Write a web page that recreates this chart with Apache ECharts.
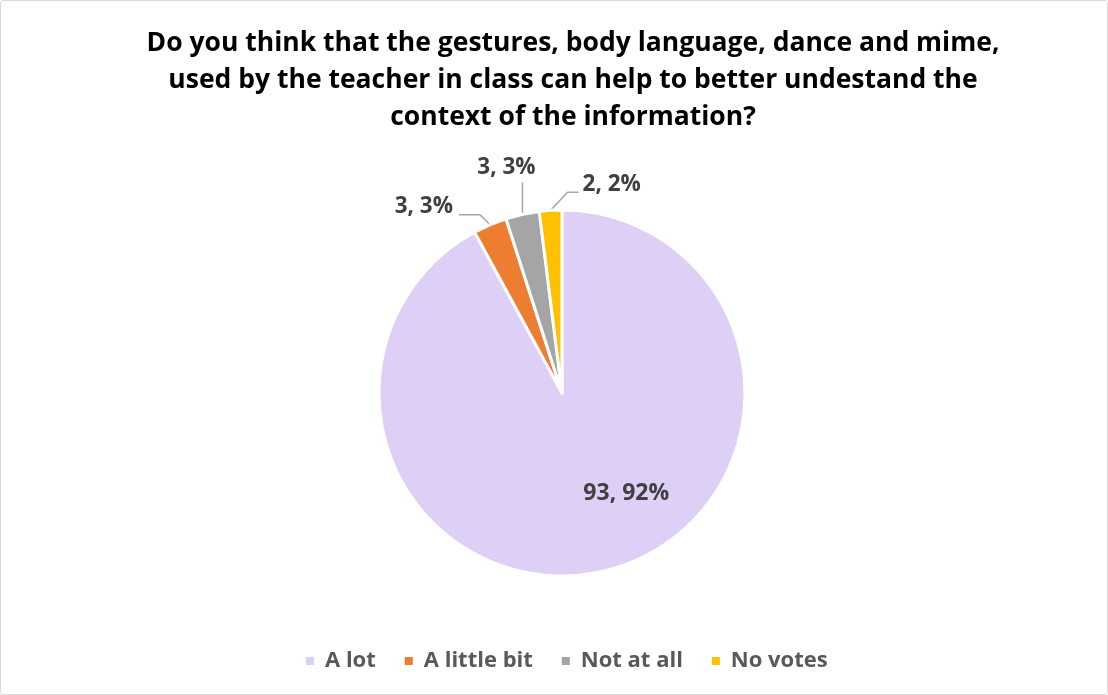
<!DOCTYPE html>
<html><head><meta charset="utf-8">
<script src="https://cdn.jsdelivr.net/npm/echarts@6/dist/echarts.min.js"></script>
<style>html,body{margin:0;padding:0;background:#fff}#c{position:absolute;left:0;top:0;width:1106px;height:693px;border:1px solid #D9D9D9;border-radius:3px}</style>
</head><body><div id="c"></div>
<script>
const categories = ["A lot", "A little bit", "Not at all", "No votes"];
const values = [93, 3, 3, 2];
const percents = [92, 3, 3, 2];
const colors = ["#DDCFF5", "#ED7D31", "#A5A5A5", "#FFC000"];
const titleText = "Do you think that the gestures, body language, dance and mime,\nused by the teacher in class can help to better undestand the\ncontext of the information?";

const FONT = 'Open Sans';
const chart = echarts.init(document.getElementById('c'));

// label-line bends and label anchor, relative to the line's start point on the slice edge
const lineShapes = {
  1: {pts: [[-10, -10], [-31, -10]], x: -37, y: -18, align: 'right'},
  2: {pts: [[0, -32]], x: -16, y: -47, align: 'center'},
  3: {pts: [[17, -18], [28, -18]], x: 32, y: -26, align: 'left'}
};

const data = categories.map((name, i) => ({
  name, value: values[i],
  itemStyle: {color: colors[i]},
  label: i === 0 ? {position: 'inside', offset: [41, 9], fontSize: 23} : {}
}));

chart.setOption({
  animation: false,
  title: {
    text: titleText,
    left: 567, top: 19, textAlign: 'center',
    textStyle: {fontFamily: FONT, fontWeight: 'bold', fontSize: 26.5, color: '#000', lineHeight: 37}
  },
  legend: {
    bottom: 17, left: 298, itemWidth: 10, itemHeight: 10, itemGap: 27, icon: 'rect',
    textStyle: {fontFamily: FONT, fontWeight: 'bold', fontSize: 22, color: '#595959', padding: [0, 0, 0, 5]},
    data: categories
  },
  series: [{
    type: 'pie', center: [561, 392], radius: 183, startAngle: 90, clockwise: true,
    itemStyle: {borderColor: '#fff', borderWidth: 3},
    label: {
      formatter: p => values[p.dataIndex] + ', ' + percents[p.dataIndex] + '%',
      fontFamily: FONT, fontWeight: 'bold', fontSize: 22.5, color: '#404040'
    },
    labelLine: {length: 10, length2: 15, lineStyle: {color: '#A6A6A6', width: 1.5}},
    labelLayout: function (p) {
      const s = lineShapes[p.dataIndex];
      if (!s || !p.labelLinePoints) return {};
      const st = p.labelLinePoints[0];
      return {
        x: st[0] + s.x, y: st[1] + s.y, align: s.align, verticalAlign: 'middle',
        labelLinePoints: [st].concat(s.pts.map(d => [st[0] + d[0], st[1] + d[1]]))
      };
    },
    emphasis: {disabled: true},
    data
  }]
});
</script></body></html>
